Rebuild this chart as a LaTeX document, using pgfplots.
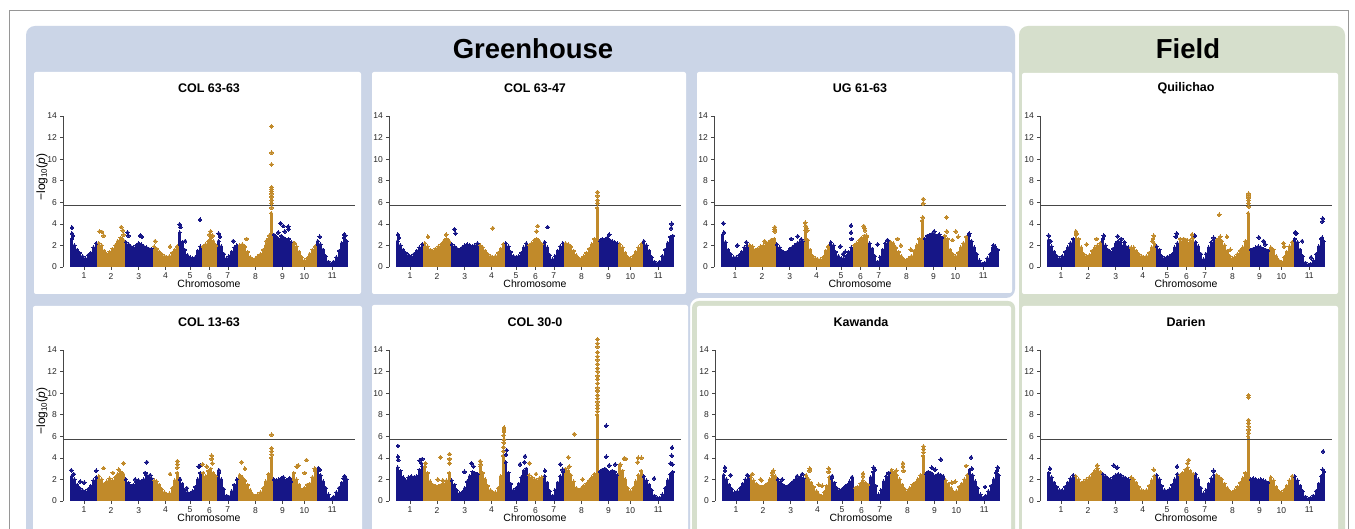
\documentclass[border=0pt]{standalone}
\usepackage{pgfplots}
\usepackage{pgfplotstable}
\pgfplotsset{compat=1.18}
\usepackage{fontspec}
\setmainfont{Liberation Sans}

\definecolor{navyc}{RGB}{22,22,135}
\definecolor{goldc}{RGB}{193,138,42}
\definecolor{bgblue}{RGB}{203,213,231}
\definecolor{bggreen}{RGB}{214,223,204}
\definecolor{framec}{RGB}{150,150,150}
\definecolor{axc}{RGB}{70,70,70}

% position grid: x position along the genome, c = 0 odd chromosome (navy), 1 even (gold)
\pgfplotstableread[row sep=\\]{
x c\\
4.1 0\\12.3 0\\20.5 0\\28.7 0\\36.9 0\\45.1 0\\53.3 0\\61.5 0\\69.7 0\\77.9 0\\
86 1\\94 1\\102 1\\110 1\\118 1\\127 1\\135 1\\143 1\\151 1\\159 1\\
167 0\\175 0\\182 0\\190 0\\198 0\\206 0\\213 0\\221 0\\229 0\\236 0\\244 0\\
252 1\\260 1\\267 1\\275 1\\283 1\\290 1\\298 1\\306 1\\314 1\\321 1\\
329 0\\337 0\\344 0\\352 0\\360 0\\368 0\\376 0\\383 0\\391 0\\
399 1\\407 1\\415 1\\422 1\\430 1\\438 1\\
446 0\\454 0\\462 0\\470 0\\477 0\\485 0\\493 0\\501 0\\
509 1\\517 1\\525 1\\533 1\\541 1\\549 1\\557 1\\564 1\\572 1\\580 1\\588 1\\596 1\\604 1\\
612 0\\619 0\\627 0\\634 0\\642 0\\649 0\\657 0\\664 0\\
672 1\\680 1\\688 1\\696 1\\704 1\\712 1\\720 1\\728 1\\736 1\\
744 0\\752 0\\760 0\\768 0\\776 0\\784 0\\792 0\\800 0\\808 0\\816 0\\824 0\\831 0\\
}\grid

% upper envelope of -log10(p) per position, one column per panel
\pgfplotstablecreatecol[set list={%
2.6,2.0,1.6,1.3,1.0,0.8,1.1,1.3,1.8,2.2,%
2.2,2.0,1.5,1.2,1.4,1.7,2.0,2.4,2.7,2.5,%
2.3,2.1,1.9,1.8,2.0,2.2,2.1,1.9,1.8,1.7,1.7,%
1.9,1.7,1.4,1.2,1.0,0.9,1.0,1.3,1.6,1.9,%
3.2,2.3,1.6,1.1,0.9,0.8,0.9,1.5,1.9,%
1.9,2.1,2.4,2.7,2.4,2.0,%
2.4,1.9,1.2,0.8,1.0,1.4,1.8,2.0,%
2.0,2.1,1.9,1.4,0.9,0.7,0.8,1.0,1.2,1.6,2.0,2.6,5.0,%
3.0,2.8,2.6,2.9,2.7,2.5,2.6,2.3,%
2.2,1.9,1.4,0.9,0.6,0.8,1.2,1.6,1.9,%
2.4,2.1,1.6,1.0,0.5,0.3,0.5,0.9,1.5,2.2,2.7,2.4}]{pa}\grid
\pgfplotstablecreatecol[set list={%
2.4,2.0,1.6,1.3,1.1,1.0,1.2,1.5,1.8,2.1,%
2.2,1.9,1.6,1.5,1.7,1.9,2.1,2.4,2.6,2.4,%
2.1,1.9,1.7,1.6,1.8,2.0,2.1,2.0,1.9,2.0,2.2,%
2.0,1.8,1.5,1.2,1.0,0.9,1.0,1.3,1.7,2.1,%
2.2,1.9,1.4,1.0,0.9,1.0,1.3,1.8,2.2,%
2.0,2.2,2.5,2.6,2.4,2.1,%
2.3,1.8,1.1,0.7,1.0,1.5,1.9,2.2,%
2.2,2.1,1.9,1.5,1.1,0.8,0.8,1.0,1.3,1.7,2.1,2.6,5.5,%
2.4,2.6,2.5,2.7,2.5,2.4,2.3,2.2,%
2.1,1.8,1.3,0.9,0.8,1.0,1.4,1.8,2.1,%
2.4,2.0,1.5,0.9,0.5,0.3,0.5,1.0,1.6,2.2,2.8,2.9}]{pb}\grid
\pgfplotstablecreatecol[set list={%
3.0,2.3,1.6,1.2,0.9,0.9,1.1,1.4,1.8,2.0,%
2.0,1.9,1.6,1.7,1.9,2.0,2.2,2.3,2.4,2.6,%
2.1,1.8,1.5,1.3,1.4,1.7,1.8,2.0,2.2,2.3,2.4,%
3.4,2.5,1.6,1.0,0.8,0.7,0.7,0.9,1.5,1.9,%
2.3,2.0,1.4,1.0,0.8,0.8,1.0,1.4,1.8,%
2.0,2.2,2.5,2.7,2.9,2.8,%
2.2,1.7,1.0,0.5,0.9,1.6,2.2,2.4,%
2.3,2.2,1.8,1.4,1.0,0.7,0.6,0.8,1.0,1.5,2.0,2.6,4.3,%
2.6,2.9,3.0,3.1,3.0,2.9,2.8,2.7,%
2.9,2.6,1.6,1.2,1.0,1.3,1.8,2.2,2.8,%
2.9,2.4,1.8,1.2,0.6,0.3,0.4,0.8,1.2,1.8,1.9,1.6}]{pc}\grid
\pgfplotstablecreatecol[set list={%
2.5,1.9,1.4,1.0,0.8,1.0,1.4,1.8,2.2,2.6,%
3.0,2.6,1.8,1.2,1.0,1.1,1.5,1.8,2.0,2.2,%
2.6,2.0,1.6,1.4,1.7,2.2,2.4,2.3,2.0,1.9,1.8,%
1.8,1.8,1.5,1.2,1.0,0.9,1.0,1.3,1.8,2.2,%
1.9,1.6,1.0,0.8,0.9,1.0,1.2,1.8,2.2,%
2.6,2.4,2.3,2.2,2.5,2.7,%
2.3,1.9,1.2,0.7,1.2,1.8,2.3,2.5,%
2.5,2.6,2.4,2.0,1.5,1.0,0.8,0.9,1.2,1.5,1.8,2.4,5.0,%
1.6,1.7,1.8,1.9,1.8,1.7,1.6,1.5,%
1.8,1.6,1.0,0.6,0.5,0.9,1.4,1.9,2.3,%
2.6,2.3,1.6,1.0,0.4,0.2,0.3,0.6,1.2,1.9,2.6,2.4}]{pd}\grid
\pgfplotstablecreatecol[set list={%
2.3,2.0,1.5,1.2,1.0,0.9,1.1,1.4,1.9,2.2,%
2.3,2.0,1.6,1.8,2.1,1.9,2.2,2.5,2.7,2.5,%
2.0,1.7,1.4,1.5,1.8,1.9,1.8,2.0,2.4,2.2,2.1,%
1.9,1.8,1.5,1.1,0.8,0.6,0.7,1.2,1.9,2.6,%
2.0,1.6,1.0,0.8,0.7,0.9,1.3,2.0,2.6,%
2.6,2.3,2.8,3.0,2.6,2.3,%
2.6,2.0,1.1,0.5,0.4,0.9,1.5,2.0,%
2.4,2.2,1.9,1.5,1.0,0.6,0.5,0.6,0.8,1.2,1.8,2.5,4.0,%
2.0,1.9,2.0,2.1,2.0,1.9,2.0,1.8,%
2.6,2.0,1.5,1.0,1.2,1.5,1.6,2.2,2.8,%
2.8,2.4,1.8,1.2,0.6,0.2,0.4,0.8,1.2,1.7,2.1,2.0}]{pe}\grid
\pgfplotstablecreatecol[set list={%
3.1,2.8,2.2,1.9,2.2,2.3,2.2,2.3,2.9,3.2,%
3.2,2.6,1.8,1.5,1.4,1.4,1.5,1.6,1.9,2.6,%
1.9,1.5,1.0,0.7,0.8,1.2,1.8,2.3,2.7,2.6,2.5,%
3.2,2.6,2.0,1.4,1.0,0.8,0.8,1.2,2.3,4.2,%
3.6,2.6,1.6,1.0,1.2,1.6,2.2,2.8,3.0,%
2.4,2.2,2.0,1.9,2.1,2.2,%
2.3,1.7,0.9,0.5,1.0,1.7,2.3,2.7,%
3.0,2.8,2.4,1.8,1.2,1.0,1.2,1.4,1.6,1.9,2.2,2.5,8.0,%
2.7,2.9,3.0,2.8,2.6,2.8,2.7,2.4,%
3.2,2.8,2.0,1.2,0.9,1.2,1.8,2.4,2.8,%
2.3,1.9,1.5,1.0,0.5,0.3,0.3,0.6,1.2,1.9,2.5,2.7}]{pf}\grid
\pgfplotstablecreatecol[set list={%
2.4,2.0,1.5,1.1,0.8,0.9,1.2,1.6,2.0,2.3,%
2.2,1.9,1.6,1.4,1.3,1.4,1.6,2.0,2.4,2.3,%
2.0,1.8,1.5,1.3,1.4,1.6,1.8,2.0,2.1,2.2,2.1,%
2.4,2.0,1.7,1.3,0.9,0.6,0.5,0.8,1.4,2.2,%
2.1,1.7,1.2,1.0,1.1,1.3,1.5,1.8,2.1,%
1.2,1.3,1.6,1.9,1.7,1.5,%
2.2,2.7,1.4,0.6,1.0,1.8,2.3,2.6,%
2.9,2.7,2.4,2.0,1.5,1.1,0.9,1.2,1.5,1.7,2.0,2.4,4.2,%
2.5,2.7,2.6,2.4,2.3,2.5,2.4,2.3,%
1.9,1.6,1.2,0.8,0.9,1.3,1.6,2.0,2.4,%
2.9,2.4,1.8,1.2,0.6,0.3,0.5,0.9,1.4,2.0,2.6,2.4}]{pg}\grid
\pgfplotstablecreatecol[set list={%
2.6,2.2,1.7,1.3,1.0,1.0,1.3,1.7,2.1,2.4,%
2.3,2.0,1.7,1.8,2.0,2.2,2.5,2.8,3.0,2.7,%
2.5,2.3,2.1,2.0,2.2,2.4,2.5,2.4,2.2,2.1,2.0,%
2.2,2.0,1.7,1.3,1.0,0.9,1.0,1.4,1.9,2.3,%
2.4,2.0,1.4,1.0,0.9,1.1,1.5,2.0,2.5,%
2.4,2.6,2.9,3.1,2.8,2.5,%
2.5,2.0,1.2,0.7,1.0,1.6,2.1,2.4,%
2.4,2.2,2.0,1.6,1.2,0.9,0.8,1.0,1.3,1.7,2.1,2.6,6.0,%
2.0,2.1,2.0,1.9,2.0,1.9,1.8,1.7,%
2.2,1.9,1.3,0.9,0.8,1.0,1.4,1.9,2.3,%
2.3,1.9,1.4,0.9,0.4,0.2,0.3,0.5,0.9,1.6,2.3,2.7}]{ph}\grid

\pgfplotsset{
 manh/.style={
  scale only axis, width=292pt, height=151pt,
  xmin=-22, xmax=856, ymin=0, ymax=14, clip=false,
  anchor=south west,
  axis x line*=bottom, axis y line*=left,
  x axis line style={draw=none},
  y axis line style={-, draw=axc, line width=0.6pt},
  xtick={41,122.5,205.5,286.5,360,418.5,473.5,556.5,638,704,787.5},
  xticklabels={1,2,3,4,5,6,7,8,9,10,11},
  ytick={0,2,4,6,8,10,12,14},
  tick align=outside, major tick length=2.6pt,
  every tick/.style={draw=axc, line width=0.5pt},
  tick label style={font=\fontsize{8.5}{9}\selectfont, text=black!85},
  /pgf/number format/assume math mode=true,
  xlabel={Chromosome},
  xlabel style={at={(axis description cs:0.5,0)}, anchor=center, yshift=-17pt, font=\fontsize{10.5}{12}\selectfont},
  title style={at={(axis description cs:0.5,1)}, anchor=center, yshift=21.5pt, font=\bfseries\fontsize{12.5}{14}\selectfont},
 },
 ylab/.style={ylabel={−log\textsubscript{10}(\textit{p})},
  ylabel style={at={(axis description cs:-0.072,0.596)}, anchor=center, font=\fontsize{12}{14}\selectfont}},
 env/.style={ycomb, line width=2.85pt, mark=*, mark size=1.6pt, mark options={line width=0pt}},
 dots/.style={only marks, mark=*, mark size=1.9pt, mark options={line width=0pt}},
}

\newcommand{\manhattan}[6]{%
\begin{axis}[manh, at={#1}, title={#2}, #6]
\addplot[env, navyc, restrict expr to domain={\thisrow{c}}{0:0}] table[x=x,y=#3]{\grid};
\addplot[env, goldc, restrict expr to domain={\thisrow{c}}{1:1}] table[x=x,y=#3]{\grid};
\addplot[axc, line width=1.1pt] coordinates {(-22,5.74) (856,5.74)};
\addplot[dots, navyc] coordinates {#4};
\addplot[dots, goldc] coordinates {#5};
\end{axis}}

\begin{document}
\begin{tikzpicture}[x=1pt,y=1pt]
\useasboundingbox (0,0) rectangle (1355,529);
\clip (0,0) rectangle (1355,529);
\begin{scope}[yshift=529pt, yscale=-1]
\fill[white] (0,0) rectangle (1355,529);
\draw[framec, line width=0.9pt] (9,10) rectangle (1348,560);
\fill[bgblue, rounded corners=9pt] (26,560) -- (26,26) -- (1015,26) -- (1015,298) -- (690,298) -- (690,560) -- cycle;
\fill[bggreen, rounded corners=9pt] (1019,26) rectangle (1345,560);
\fill[bggreen, rounded corners=7pt] (692,301) rectangle (1015,560);
\fill[white, rounded corners=2pt] (34,72) rectangle (361,294);
\fill[white, rounded corners=2pt] (372,72) rectangle (686,294);
\fill[white, rounded corners=2pt] (697,72) rectangle (1012,293);
\fill[white, rounded corners=2pt] (1022,73) rectangle (1338,294);
\fill[white, rounded corners=2pt] (33,306) rectangle (362,560);
\fill[white, rounded corners=2pt] (372,305) rectangle (688,560);
\fill[white, rounded corners=2pt] (697,306) rectangle (1011,560);
\fill[white, rounded corners=2pt] (1022,306) rectangle (1338,560);
\node[font=\bfseries\fontsize{27.5}{30}\selectfont, anchor=base] at (533,59) {Greenhouse};
\node[font=\bfseries\fontsize{27.5}{30}\selectfont, anchor=base] at (1188,59) {Field};
\end{scope}

\manhattan{(63pt,262pt)}{COL 63-63}{pa}
{(5,3.65)(5,3.1)(8,2.9)(172,3.2)(175,2.9)(210,2.9)(215,2.8)(329,3.95)(331,3.7)(390,4.37)(345,2.4)(446,3.1)(450,2.8)(490,2.4)(632,4.05)(640,3.8)(655,3.75)(657,3.5)(645,3.3)(625,3.2)(750,2.8)(823,3.0)(827,2.9)}
{(88,3.3)(95,3.25)(100,2.9)(153,3.7)(158,3.4)(160,3.0)(255,2.4)(300,1.9)(422,3.3)(418,3.0)(428,2.9)(530,2.6)(605,5.5)(605,5.9)(605,6.2)(605,6.5)(605,6.8)(605,7.0)(605,7.2)(605,7.4)(605,9.5)(605,10.6)(605,13.05)(598,2.9)(590,2.4)(675,2.2)}
{ylab}

\manhattan{(389pt,262pt)}{COL 63-47}{pb}
{(5,3.0)(8,2.7)(175,3.5)(178,3.1)(455,3.7)(828,4.0)(826,3.6)(640,3.0)}
{(605,6.95)(605,6.6)(605,6.2)(605,5.9)(425,3.8)(422,3.3)(290,3.6)(150,3.0)(95,2.8)}
{}

\manhattan{(714pt,262pt)}{UG 61-63}{pc}
{(6,4.05)(8,3.2)(48,2.0)(75,2.3)(230,2.85)(210,2.6)(240,2.55)(358,1.9)(372,1.4)(366,1.2)(390,3.85)(390,3.2)(392,2.6)(470,2.1)(500,2.5)(640,3.3)(655,3.0)(745,3.1)(818,2.0)}
{(161,3.7)(161,3.5)(161,3.3)(150,2.5)(130,2.4)(252,4.1)(254,3.8)(256,3.6)(258,3.4)(428,3.8)(430,3.6)(432,3.4)(436,2.9)(607,6.3)(607,5.9)(606,4.6)(530,2.6)(540,2.0)(570,1.6)(677,4.6)(678,3.3)(705,3.3)(712,2.8)(695,2.5)}
{}

\manhattan{(1040pt,262pt)}{Quilichao}{pd}
{(4,2.9)(10,2.4)(170,2.9)(212,2.85)(222,2.6)(232,2.3)(389,3.1)(386,2.8)(444,2.9)(500,2.7)(636,2.75)(650,2.4)(655,2.1)(745,3.2)(748,3.1)(766,2.4)(793,0.9)(828,4.5)(827,4.2)(826,2.7)}
{(86,3.3)(88,3.1)(118,2.1)(148,2.6)(320,2.9)(318,2.6)(316,2.4)(435,3.0)(410,2.6)(420,2.5)(517,4.85)(540,2.8)(520,2.8)(605,6.8)(605,6.6)(605,6.4)(605,6.2)(605,5.9)(605,5.6)(550,1.6)(580,1.5)(710,2.2)(712,1.9)}
{}

\manhattan{(63pt,28pt)}{COL 13-63}{pe}
{(3,2.85)(10,2.5)(78,2.8)(30,1.8)(42,1.7)(230,3.6)(225,2.6)(240,2.4)(195,2.0)(330,2.0)(390,3.3)(386,3.2)(350,1.2)(447,2.85)(640,2.2)(660,2.1)(746,3.05)(750,2.9)(825,2.3)(822,2.1)}
{(100,3.05)(160,3.5)(146,2.9)(128,2.6)(322,3.7)(322,3.4)(322,3.1)(300,2.5)(425,4.2)(425,3.9)(427,3.5)(410,3.2)(398,3.4)(515,3.6)(525,3.0)(605,6.15)(605,4.9)(605,4.6)(605,4.3)(685,3.3)(681,3.2)(710,3.8)(705,2.6)(735,3.0)}
{ylab}

\manhattan{(389pt,28pt)}{COL 30-0}{pf}
{(5,5.1)(5,4.1)(6,3.8)(70,3.75)(78,3.9)(75,3.5)(226,3.5)(232,3.2)(205,2.7)(332,4.7)(330,4.3)(387,4.15)(372,3.4)(385,3.6)(447,2.8)(493,3.4)(500,2.9)(631,6.97)(631,4.1)(640,3.3)(658,3.4)(829,4.95)(828,4.2)(825,3.5)(830,3.4)(775,2.1)}
{(88,3.5)(133,4.05)(160,4.35)(160,3.9)(160,3.5)(125,2.0)(140,1.9)(252,3.7)(254,3.4)(324,6.8)(324,6.6)(324,6.4)(323,6.1)(324,5.7)(323,5.4)(322,5.0)(322,4.6)(400,3.5)(420,2.5)(517,4.05)(520,3.2)(535,6.2)(560,2.0)(580,1.8)(605,8.3)(605,8.6)(605,8.9)(605,9.2)(605,9.5)(605,9.8)(605,10.2)(605,10.5)(605,10.9)(605,11.3)(605,11.6)(605,12.0)(605,12.3)(605,12.7)(605,13.1)(605,13.4)(605,13.8)(605,14.3)(605,14.6)(605,15.0)(685,3.95)(690,3.9)(673,3.4)(727,4.0)(737,4.0)(726,3.6)}
{}

\manhattan{(715pt,28pt)}{Kawanda}{pg}
{(8,3.1)(8,2.8)(25,2.4)(75,2.4)(240,2.5)(180,2.0)(225,2.3)(330,2.3)(390,2.2)(455,3.1)(458,2.9)(500,2.6)(657,3.85)(630,3.1)(640,2.9)(748,4.05)(750,3.0)(828,3.1)(826,2.8)(790,1.3)}
{(90,2.5)(115,2.0)(118,1.9)(153,2.8)(150,2.6)(263,3.0)(262,2.8)(320,3.0)(320,2.7)(290,1.5)(300,1.4)(423,2.55)(423,2.3)(543,3.5)(543,3.2)(545,2.8)(523,2.8)(605,5.05)(605,4.8)(605,4.5)(733,3.25)(700,1.8)(690,1.7)}
{}

\manhattan{(1040pt,28pt)}{Darien}{ph}
{(829,4.6)(828,2.9)(8,3.0)(200,3.3)(210,3.1)(390,3.2)(500,2.8)}
{(605,9.8)(605,9.6)(605,7.5)(605,7.2)(605,6.9)(605,6.6)(605,6.3)(425,3.8)(422,3.5)(150,3.3)(320,2.9)}
{}
\end{tikzpicture}
\end{document}
